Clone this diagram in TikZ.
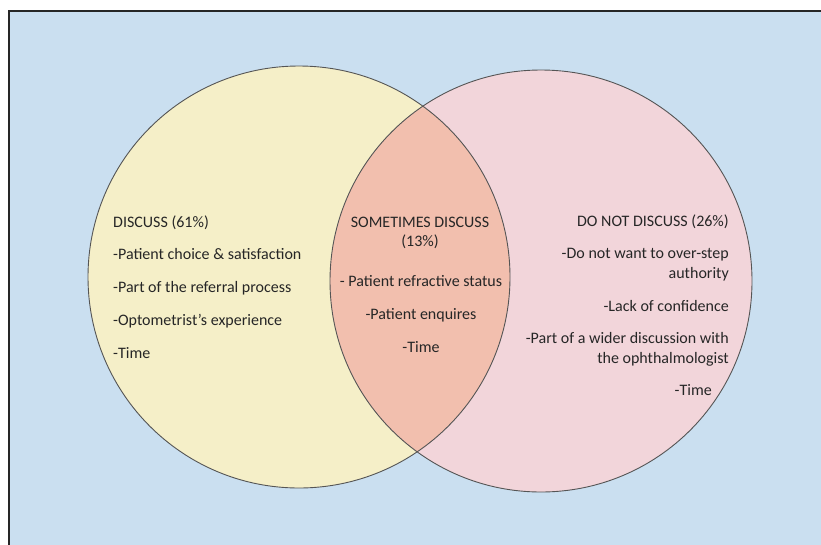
\documentclass[tikz,border=0pt]{standalone}
\usepackage{fontspec}
\setmainfont{Carlito}
\definecolor{bgblue}{HTML}{CADFF0}
\definecolor{cyel}{HTML}{F5EFC8}
\definecolor{cpink}{HTML}{F2D5DA}
\definecolor{cmid}{HTML}{F2BFAE}
\definecolor{edge}{HTML}{555555}
\definecolor{txt}{HTML}{262626}
\begin{document}
\begin{tikzpicture}[x=1pt,y=-1pt,
  lbl/.style={inner sep=0pt,text=txt,font=\fontsize{16}{20}\selectfont},
  lw/.style={lbl,anchor=base west},
  le/.style={lbl,anchor=base east},
  lc/.style={lbl,anchor=base}]
\useasboundingbox (0,0) rectangle (821,544);
\clip (0,0) rectangle (821,544);
\fill[white] (0,0) rectangle (821,544);
\draw[fill=bgblue,draw=black!85,line width=2pt] (9,11) rectangle (840,560);
\coordinate (cl) at (299,277);
\coordinate (cr) at (541,281);
\fill[cyel] (cl) circle[radius=211];
\fill[cpink] (cr) circle[radius=211];
\begin{scope}
\clip (cl) circle[radius=211];
\fill[cmid] (cr) circle[radius=211];
\end{scope}
\draw[edge,line width=0.9pt] (cl) circle[radius=211];
\draw[edge,line width=0.9pt] (cr) circle[radius=211];
% left
\node[lw] (l0) at (113,227) {DISCUSS (61\%)};
\node[lw] (l1) at (113,259) {-Patient choice \& satisfaction};
\node[lw] (l2) at (113,292) {-Part of the referral process};
\node[lw] (l3) at (113,325) {-Optometrist’s experience};
\node[lw] (l4) at (113,358) {-Time};
% middle
\node[lc] (m0) at (420,227) {SOMETIMES DISCUSS};
\node[lc] (m1) at (420,246) {(13\%)};
\node[lc] (m2) at (421,286) {- Patient refractive status};
\node[lc] (m3) at (421,319) {-Patient enquires};
\node[lc] (m4) at (421,352) {-Time};
% right
\node[le] (r0) at (729,226) {DO NOT DISCUSS (26\%)};
\node[le] (r1) at (729,258) {-Do not want to over-step};
\node[le] (r2) at (729,278) {authority};
\node[le] (r3) at (729,311) {-Lack of confidence};
\node[le] (r4) at (729,343) {-Part of a wider discussion with};
\node[le] (r5) at (729,363) {the ophthalmologist};
\node[le] (r6) at (712,395) {-Time};
\end{tikzpicture}
\end{document}
